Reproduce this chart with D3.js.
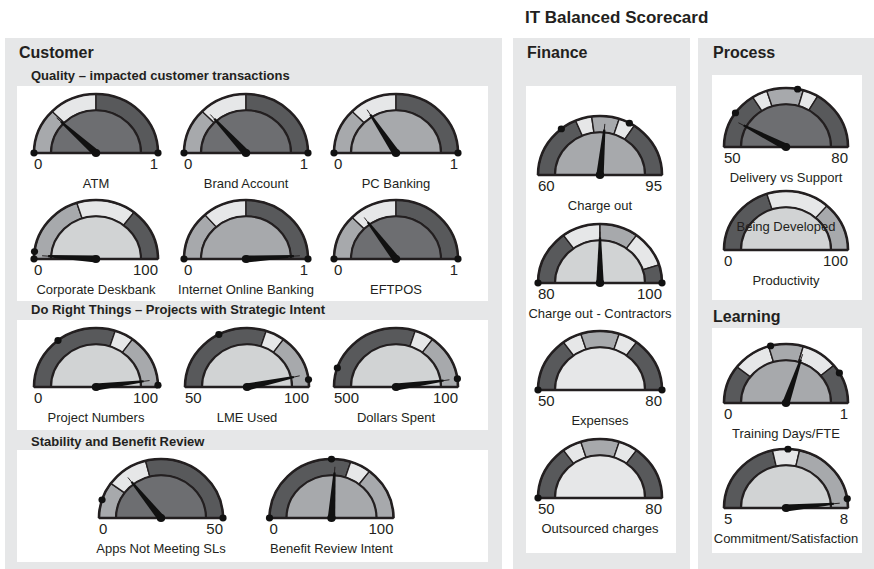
<!DOCTYPE html>
<html><head><meta charset="utf-8">
<script src="https://cdn.jsdelivr.net/npm/d3@7"></script>
<style>html,body{margin:0;padding:0;background:#fff;} svg{display:block;font-family:"Liberation Sans",Arial,Helvetica,sans-serif;}</style>
</head><body><svg id="c" width="874" height="569"></svg>
<script>
// ---------- data ----------
const chartTitle = "IT Balanced Scorecard";
const panelTitles = ["Customer", "Finance", "Process", "Learning"];
const subTitles = ["Quality – impacted customer transactions", "Do Right Things – Projects with Strategic Intent", "Stability and Benefit Review"];

const gaugeNames = ["ATM", "Brand Account", "PC Banking", "Corporate Deskbank", "Internet Online Banking", "EFTPOS",
  "Project Numbers", "LME Used", "Dollars Spent", "Apps Not Meeting SLs", "Benefit Review Intent",
  "Charge out", "Charge out - Contractors", "Expenses", "Outsourced charges",
  "Delivery vs Support", "Productivity", "Training Days/FTE", "Commitment/Satisfaction"];
const scaleMin = [0, 0, 0, 0, 0, 0, 0, 50, 500, 0, 0, 60, 80, 50, 50, 50, 0, 0, 5];
const scaleMax = [1, 1, 1, 100, 1, 1, 100, 100, 100, 50, 100, 95, 100, 80, 80, 80, 100, 1, 8];
const needleValues = [0.24, 0.27, 0.32, 2, 0.98, 0.30, 96, 96.5, 118, 14.5, 52, 78.5, 90, null, null, 54.7, null, 0.6, 7.91];
const bandBreaks = [[0.25, 0.5], [0.25, 0.5], [0.25, 0.5], [40, 71], [0.27, 0.5], [0.25, 0.5],
  [60, 70], [80, 85], [260, 220], [10, 21], [60, 71],
  [73, 76, 81, 84], [86, 90, 94, 98], [59, 62, 68, 71], [59, 62, 68, 71],
  [59.6, 62, 67.7, 70.1], [40, 73], [0.21, 0.41, 0.59, 0.78], [6.29, 6.71]];
const Q3 = ["mid", "light", "dark"], D3b = ["dark", "light", "mid"], F5 = ["dark", "light", "mid", "light", "dark"];
const bandShades = [Q3, Q3, Q3, Q3, Q3, Q3, D3b, D3b, D3b, Q3, D3b, F5, F5, F5, F5, F5, D3b, F5, D3b];
const faceShades = ["dark", "dark", "mid", "pale", "mid", "dark", "pale", "pale", "pale", "dark", "mid",
  "mid", "pale", "light", "light", "dark", "pale", "mid", "pale"];
const markerValues = [[0, 1], [0, 1], [0, 1], [0, 4], [0, 1], [0, 1], [29, 99], [67.5, 98], [458, 118], [5, 50], [0, 50],
  [70, 83], [80, 100], [50, 80], [50], [55.9, 66.8], [], [0.42, 0.83], [6.53, 7.85]];
const gaugeNotes = [null, null, null, null, null, null, null, null, null, null, null, null, null, null, null, null, "Being Developed", null, null];

// ---------- layout ----------
const gaugeCx = [96, 246, 396, 96, 246, 396, 96, 247, 396, 161, 331.5, 600, 600, 600, 600, 786, 786, 786, 786];
const gaugeBy = [153, 153, 153, 259, 259, 259, 387, 387, 387, 518, 518, 175, 283, 390, 498, 147, 250, 403, 508];
const bandColor = {dark: "#58595b", mid: "#a7a9ac", light: "#e6e7e8"};
const faceColor = {dark: "#6d6e71", mid: "#a7a9ac", pale: "#d1d3d4", light: "#e6e7e8"};
const ink = "#231f20";
const R = 62, r = 45, ys = 0.95;

const svg = d3.select("#c");
const panels = [[5, 38, 497, 531], [513, 38, 177, 531], [698, 38, 176, 531]];
svg.selectAll("rect.panel").data(panels).join("rect").attr("class", "panel")
  .attr("x", d => d[0]).attr("y", d => d[1]).attr("width", d => d[2]).attr("height", d => d[3]).attr("fill", "#e6e7e8");
const boxes = [[17, 86, 471, 215], [17, 320, 471, 110], [17, 450, 471, 112], [526, 86, 150, 467], [712, 75, 150, 225], [712, 328, 150, 225]];
svg.selectAll("rect.box").data(boxes).join("rect").attr("class", "box")
  .attr("x", d => d[0]).attr("y", d => d[1]).attr("width", d => d[2]).attr("height", d => d[3]).attr("fill", "#fff");

svg.append("text").attr("x", 525).attr("y", 23).attr("font-size", 17).attr("font-weight", "bold").attr("fill", ink).text(chartTitle);
const ptPos = [[19, 58], [527, 58], [713, 58], [713, 322]];
panelTitles.forEach((t, i) => svg.append("text").attr("x", ptPos[i][0]).attr("y", ptPos[i][1])
  .attr("font-size", 16).attr("font-weight", "bold").attr("fill", ink).text(t));
const stPos = [[31, 80], [31, 314], [31, 446]];
subTitles.forEach((t, i) => svg.append("text").attr("x", stPos[i][0]).attr("y", stPos[i][1])
  .attr("font-size", 13).attr("font-weight", "bold").attr("fill", ink).text(t));

gaugeNames.forEach((name, i) => {
  const ang = d3.scaleLinear().domain([scaleMin[i], scaleMax[i]]).range([-Math.PI / 2, Math.PI / 2]);
  const outer = svg.append("g").attr("transform", `translate(${gaugeCx[i]},${gaugeBy[i]})`);
  const g = outer.append("g").attr("transform", `scale(1,${ys})`);
  const edges = [scaleMin[i], ...bandBreaks[i], scaleMax[i]];
  const bands = d3.pairs(edges).map((p, k) => ({a0: ang(p[0]), a1: ang(p[1]), c: bandColor[bandShades[i][k]]}));
  const bandArc = d3.arc().innerRadius(r).outerRadius(R).startAngle(d => d.a0).endAngle(d => d.a1);
  g.selectAll("path.band").data(bands).join("path").attr("class", "band")
    .attr("d", bandArc).attr("fill", d => d.c).attr("stroke", ink).attr("stroke-width", 1.4);
  g.append("path").attr("d", d3.arc()({innerRadius: 0, outerRadius: r, startAngle: -Math.PI / 2, endAngle: Math.PI / 2}))
    .attr("fill", faceColor[faceShades[i]]).attr("stroke", ink).attr("stroke-width", 2.2);
  g.append("path").attr("d", d3.arc()({innerRadius: R, outerRadius: R, startAngle: -Math.PI / 2, endAngle: Math.PI / 2}))
    .attr("fill", "none").attr("stroke", ink).attr("stroke-width", 2.6);
  g.append("line").attr("x1", -R).attr("x2", R).attr("y1", 0).attr("y2", 0).attr("stroke", ink).attr("stroke-width", 2.6);

  if (gaugeNotes[i]) {
    outer.append("text").attr("x", 0).attr("y", -19).attr("text-anchor", "middle").attr("font-size", 13).attr("fill", ink).text(gaugeNotes[i]);
  }

  if (needleValues[i] !== null) {
    const a = ang(needleValues[i]);
    const dx = Math.sin(a), dy = -Math.cos(a), px = Math.cos(a), py = Math.sin(a);
    const hw = 3.7, tw = 1.1, L = 48;
    g.append("line").attr("x1", dx * 40).attr("y1", dy * 40).attr("x2", dx * 54).attr("y2", dy * 54)
      .attr("stroke", ink).attr("stroke-width", 1);
    const pts = [[px * hw, py * hw], [dx * L + px * tw, dy * L + py * tw], [dx * L - px * tw, dy * L - py * tw], [-px * hw, -py * hw]];
    g.append("polygon").attr("points", pts.map(p => p.join(",")).join(" ")).attr("fill", "#111");
    g.append("circle").attr("r", 4.2).attr("fill", "#111");
  }
  g.selectAll("circle.mk").data(markerValues[i]).join("circle").attr("class", "mk")
    .attr("cx", v => R * Math.sin(ang(v))).attr("cy", v => -R * Math.cos(ang(v))).attr("r", 3.6).attr("fill", "#111");

  outer.append("text").attr("x", -R).attr("y", 16).attr("font-size", 15).attr("fill", ink).text(scaleMin[i]);
  outer.append("text").attr("x", R).attr("y", 16).attr("text-anchor", "end").attr("font-size", 15).attr("fill", ink).text(scaleMax[i]);
  outer.append("text").attr("x", 0).attr("y", 35).attr("text-anchor", "middle").attr("font-size", 13).attr("fill", ink).text(name);
});
</script></body></html>
